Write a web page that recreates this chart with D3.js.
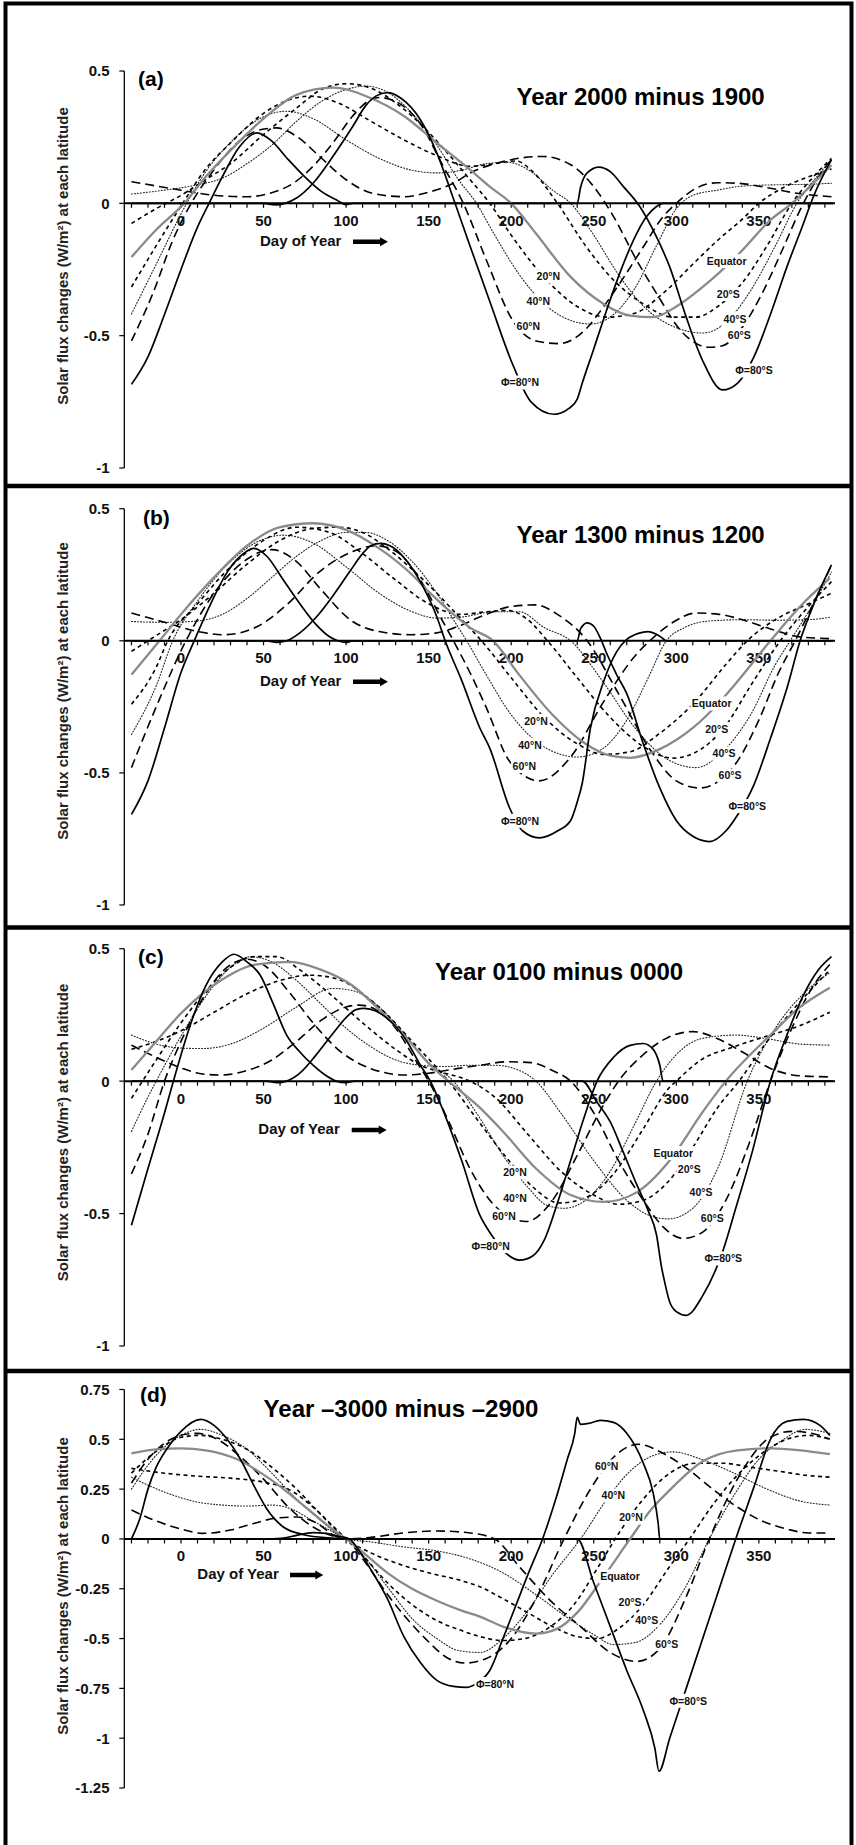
<!DOCTYPE html>
<html><head><meta charset="utf-8">
<script src="https://cdn.jsdelivr.net/npm/d3@7"></script>
<style>
body{margin:0;background:#fff}
svg{display:block}
text{font-family:'Liberation Sans',Arial,Helvetica,sans-serif}
</style>
</head><body>
<svg id="chart" width="856" height="1845"></svg>
<script>
// ---------------- DATA (day of year, W/m2) ----------------
const latitudes = ["80N","60N","40N","20N","EQ","20S","40S","60S","80S"];
const latLabels = {"80N":"\u03A6=80\u00B0N","60N":"60\u00B0N","40N":"40\u00B0N","20N":"20\u00B0N","EQ":"Equator","20S":"20\u00B0S","40S":"40\u00B0S","60S":"60\u00B0S","80S":"\u03A6=80\u00B0S"};
const xTickValues = [0,50,100,150,200,250,300,350];
const yTicksABC = [0.5,0,-0.5,-1];
const yTicksD = [0.75,0.5,0.25,0,-0.25,-0.5,-0.75,-1,-1.25];
const panelTitles = ["Year 2000 minus 1900","Year 1300 minus 1200","Year 0100 minus 0000","Year \u20133000 minus \u20132900"];
const panelLetters = ["(a)","(b)","(c)","(d)"];

// Panel (a) Year 2000 minus 1900
const a80N = [[-30,0],[50,0],[57,-0.006],[63,0],[70,0.02],[80,0.076],[92,0.177],[104,0.29],[112,0.37],[118,0.405],[125,0.418],[133,0.398],[145,0.316],[155,0.19],[166,0],[175,-0.16],[187,-0.37],[201,-0.61],[212,-0.75],[226,-0.797],[235,-0.775],[240,-0.74],[243,-0.68],[250,-0.55],[258,-0.4],[266,-0.26],[274,-0.14],[282,-0.05],[288,-0.012],[292,0],[395,0]];
const a60N = [[-30,0.082],[-7,0.057],[18,0.032],[40,0.025],[55,0.04],[68,0.076],[80,0.14],[92,0.228],[104,0.33],[112,0.38],[120,0.4],[130,0.385],[145,0.3],[158,0.15],[171,0],[185,-0.215],[201,-0.443],[215,-0.52],[229,-0.53],[246,-0.47],[256,-0.39],[266,-0.3],[280,-0.165],[292,-0.05],[300,0],[312,0.057],[325,0.078],[337,0.076],[357,0.057],[373,0.038],[394,0.025]];
const a40N = [[-30,0.035],[-10,0.05],[10,0.07],[25,0.095],[40,0.15],[55,0.22],[70,0.31],[85,0.385],[100,0.43],[112,0.443],[125,0.42],[140,0.34],[155,0.22],[168,0.09],[179,0],[190,-0.12],[205,-0.27],[220,-0.38],[235,-0.44],[248,-0.456],[262,-0.42],[275,-0.32],[288,-0.16],[300,-0.02],[310,0.03],[325,0.05],[340,0.065],[360,0.07],[380,0.072],[394,0.076]];
const a20N = [[-30,-0.076],[-15,-0.02],[0,0.03],[15,0.09],[30,0.15],[50,0.26],[70,0.36],[85,0.43],[100,0.452],[115,0.435],[130,0.38],[145,0.3],[160,0.2],[175,0.09],[187,0],[200,-0.12],[220,-0.28],[240,-0.39],[258,-0.43],[275,-0.415],[292,-0.34],[310,-0.23],[325,-0.14],[340,-0.06],[350,0],[365,0.06],[380,0.1],[394,0.13]];
const aEQ  = [[-30,-0.203],[-15,-0.1],[2,0],[15,0.1],[30,0.2],[50,0.32],[70,0.41],[92,0.437],[114,0.4],[135,0.33],[155,0.228],[175,0.127],[187,0.063],[200,0],[215,-0.114],[236,-0.278],[256,-0.38],[272,-0.424],[286,-0.43],[300,-0.39],[316,-0.316],[339,-0.184],[357,-0.063],[370,0],[394,0.145]];
const a20S = [[-30,-0.316],[-15,-0.16],[0,-0.01],[15,0.13],[30,0.228],[50,0.34],[65,0.39],[78,0.405],[95,0.38],[115,0.31],[135,0.24],[155,0.18],[175,0.14],[190,0.15],[203,0.16],[213,0.12],[228,0],[245,-0.16],[262,-0.29],[280,-0.38],[298,-0.43],[312,-0.43],[325,-0.39],[340,-0.3],[355,-0.16],[370,0],[383,0.1],[394,0.17]];
const a40S = [[-30,-0.418],[-15,-0.23],[0,-0.04],[15,0.12],[30,0.23],[45,0.31],[64,0.348],[80,0.32],[100,0.24],[120,0.17],[140,0.125],[155,0.115],[170,0.125],[185,0.15],[198,0.155],[212,0.12],[225,0.05],[236,0],[250,-0.12],[265,-0.27],[282,-0.4],[300,-0.47],[316,-0.49],[330,-0.45],[345,-0.33],[360,-0.16],[373,0],[385,0.1],[394,0.165]];
const a60S = [[-30,-0.52],[-17,-0.34],[-5,-0.14],[5,-0.013],[20,0.127],[34,0.228],[48,0.278],[58,0.285],[70,0.253],[84,0.177],[100,0.089],[116,0.038],[135,0.025],[151,0.044],[165,0.076],[175,0.114],[195,0.158],[219,0.177],[236,0.146],[250,0.063],[262,-0.05],[276,-0.215],[288,-0.34],[304,-0.49],[320,-0.544],[328,-0.538],[340,-0.468],[352,-0.34],[365,-0.165],[375,-0.025],[385,0.089],[394,0.165]];
const a80S = [[-30,-0.684],[-20,-0.58],[-10,-0.42],[0,-0.25],[10,-0.09],[17,0],[25,0.1],[35,0.21],[46,0.266],[55,0.235],[65,0.165],[75,0.1],[85,0.045],[95,0.01],[100,-0.005],[104,0],[240,0],[242,0.06],[246,0.115],[253,0.137],[260,0.12],[268,0.063],[278,-0.013],[288,-0.127],[296,-0.24],[306,-0.43],[316,-0.595],[328,-0.705],[337,-0.68],[347,-0.58],[357,-0.42],[367,-0.24],[377,-0.076],[383,0.025],[394,0.165]];

// Panel (b) Year 1300 minus 1200
const b80N = [[-30,0],[52,0],[58,-0.006],[64,0],[72,0.03],[82,0.09],[92,0.17],[102,0.26],[110,0.33],[115,0.36],[121,0.369],[128,0.355],[137,0.3],[147,0.2],[155,0.09],[160,0],[170,-0.15],[181,-0.33],[187,-0.406],[199,-0.632],[207,-0.72],[217,-0.746],[228,-0.72],[236,-0.68],[240,-0.61],[243,-0.54],[248,-0.33],[256,-0.154],[264,-0.04],[270,0.005],[277,0.028],[283,0.035],[288,0.025],[292,0.008],[294,0],[395,0]];
const b60N = [[-30,0.105],[-10,0.07],[10,0.035],[26,0.023],[45,0.05],[64,0.136],[84,0.262],[104,0.338],[118,0.36],[130,0.34],[145,0.23],[158,0.08],[165,0],[175,-0.12],[185,-0.254],[199,-0.456],[217,-0.53],[236,-0.44],[256,-0.23],[276,-0.05],[284,0],[298,0.07],[312,0.105],[326,0.1],[340,0.08],[357,0.045],[375,0.015],[394,0.008]];
const b40N = [[-30,0.073],[-10,0.07],[10,0.075],[25,0.1],[40,0.16],[55,0.24],[70,0.32],[85,0.38],[100,0.41],[112,0.41],[125,0.38],[140,0.3],[155,0.18],[167,0.06],[173,0],[185,-0.13],[200,-0.28],[215,-0.38],[230,-0.43],[240,-0.44],[255,-0.41],[270,-0.3],[283,-0.14],[294,0],[305,0.05],[320,0.075],[340,0.08],[360,0.078],[380,0.08],[394,0.09]];
const b20N = [[-30,-0.04],[-15,0.02],[0,0.08],[20,0.18],[40,0.29],[60,0.38],[80,0.425],[95,0.43],[110,0.41],[125,0.35],[140,0.27],[155,0.18],[170,0.08],[182,0],[200,-0.14],[220,-0.29],[240,-0.39],[256,-0.43],[272,-0.42],[290,-0.35],[310,-0.24],[330,-0.09],[343,0],[360,0.08],[380,0.14],[394,0.18]];
const bEQ  = [[-30,-0.128],[-13,0],[0,0.1],[20,0.24],[40,0.36],[60,0.43],[80,0.445],[100,0.42],[120,0.35],[140,0.25],[150,0.186],[165,0.1],[175,0.05],[189,0],[205,-0.13],[225,-0.28],[245,-0.39],[260,-0.435],[272,-0.443],[290,-0.41],[310,-0.33],[325,-0.24],[337,-0.154],[357,0],[375,0.13],[393,0.237]];
const b20S = [[-30,-0.24],[-15,-0.1],[-8,0],[10,0.14],[30,0.28],[50,0.38],[70,0.43],[90,0.41],[110,0.33],[130,0.23],[150,0.14],[170,0.1],[185,0.11],[198,0.115],[210,0.08],[222,0],[240,-0.14],[260,-0.29],[280,-0.4],[298,-0.444],[315,-0.41],[330,-0.32],[345,-0.17],[363,0],[380,0.13],[394,0.224]];
const b40S = [[-30,-0.355],[-15,-0.17],[-5,0],[10,0.15],[30,0.3],[50,0.385],[62,0.4],[80,0.37],[100,0.28],[120,0.18],[140,0.11],[155,0.086],[170,0.09],[190,0.11],[205,0.11],[220,0.05],[236,0],[255,-0.15],[275,-0.33],[295,-0.45],[312,-0.48],[328,-0.42],[345,-0.28],[360,-0.09],[369,0],[382,0.13],[394,0.26]];
const b60S = [[-30,-0.48],[-15,-0.25],[3,0],[20,0.18],[38,0.3],[55,0.345],[70,0.3],[84,0.2],[104,0.073],[120,0.035],[139,0.023],[155,0.03],[165,0.048],[185,0.1],[200,0.13],[215,0.136],[228,0.1],[246,0],[265,-0.2],[285,-0.42],[300,-0.53],[314,-0.557],[328,-0.52],[337,-0.456],[350,-0.3],[362,-0.12],[372,0],[383,0.14],[394,0.287]];
const b80S = [[-30,-0.657],[-20,-0.53],[-10,-0.33],[0,-0.12],[8,0],[18,0.14],[28,0.26],[36,0.32],[44,0.35],[52,0.32],[62,0.23],[72,0.14],[82,0.06],[90,0.015],[95,0],[100,-0.006],[104,0],[240,0],[242,0.045],[246,0.068],[250,0.055],[254,0.01],[258,-0.05],[264,-0.13],[270,-0.2],[280,-0.39],[290,-0.557],[300,-0.68],[310,-0.74],[320,-0.76],[330,-0.72],[337,-0.66],[347,-0.545],[357,-0.37],[367,-0.18],[375,0],[384,0.15],[394,0.287]];

// Panel (c) Year 0100 minus 0000
const c80N = [[-30,0],[52,0],[58,-0.006],[64,0],[72,0.03],[82,0.1],[92,0.18],[100,0.24],[106,0.27],[111,0.275],[118,0.265],[125,0.237],[137,0.149],[145,0.06],[151,0],[160,-0.13],[170,-0.3],[181,-0.506],[188,-0.58],[196,-0.645],[205,-0.676],[213,-0.66],[220,-0.6],[228,-0.46],[236,-0.3],[244,-0.14],[252,0],[262,0.09],[272,0.135],[280,0.142],[286,0.12],[290,0.06],[292,0],[395,0]];
const c60N = [[-30,0.136],[-15,0.09],[0,0.05],[12,0.028],[24,0.023],[40,0.04],[55,0.08],[70,0.15],[85,0.23],[100,0.28],[108,0.287],[118,0.27],[130,0.2],[142,0.08],[150,0],[162,-0.15],[175,-0.33],[190,-0.47],[209,-0.53],[225,-0.45],[240,-0.28],[255,-0.1],[265,0],[280,0.1],[295,0.165],[310,0.187],[325,0.16],[340,0.11],[357,0.048],[375,0.02],[393,0.016]];
const c40N = [[-30,0.174],[-15,0.14],[0,0.125],[13,0.123],[30,0.14],[50,0.2],[70,0.28],[92,0.35],[105,0.34],[120,0.28],[135,0.18],[150,0.07],[165,0],[180,-0.13],[195,-0.28],[210,-0.4],[222,-0.47],[232,-0.48],[245,-0.45],[260,-0.34],[275,-0.16],[288,0],[300,0.1],[315,0.16],[336,0.174],[355,0.16],[375,0.14],[393,0.136]];
const c20N = [[-30,0.12],[-15,0.15],[0,0.19],[20,0.26],[40,0.33],[60,0.38],[78,0.4],[95,0.385],[110,0.33],[125,0.25],[140,0.15],[155,0.05],[162,0],[180,-0.15],[200,-0.31],[215,-0.41],[229,-0.46],[245,-0.44],[262,-0.35],[280,-0.18],[295,-0.03],[300,0],[315,0.08],[335,0.13],[355,0.17],[375,0.21],[393,0.26]];
const cEQ  = [[-30,0.042],[-15,0.15],[0,0.256],[24,0.38],[45,0.44],[66,0.45],[85,0.42],[104,0.36],[120,0.27],[135,0.174],[151,0.06],[162,0],[181,-0.1],[195,-0.19],[215,-0.33],[236,-0.43],[256,-0.456],[276,-0.42],[296,-0.3],[316,-0.116],[330,0],[357,0.174],[375,0.28],[393,0.353]];
const c20S = [[-30,-0.065],[-15,0.08],[0,0.22],[15,0.34],[30,0.43],[45,0.47],[58,0.47],[72,0.42],[90,0.33],[110,0.22],[130,0.12],[145,0.06],[160,0.03],[175,0],[190,-0.06],[210,-0.2],[230,-0.34],[250,-0.43],[265,-0.465],[280,-0.45],[295,-0.38],[310,-0.25],[325,-0.1],[338,0],[355,0.15],[375,0.3],[393,0.42]];
const c40S = [[-30,-0.19],[-20,-0.06],[-15,0],[0,0.17],[15,0.32],[30,0.43],[42,0.47],[55,0.45],[70,0.38],[85,0.29],[100,0.2],[115,0.13],[130,0.08],[145,0.06],[160,0.055],[175,0.06],[190,0.06],[205,0.04],[215,0],[230,-0.12],[250,-0.3],[270,-0.45],[285,-0.51],[295,-0.52],[310,-0.48],[325,-0.33],[343,0],[360,0.2],[377,0.33],[393,0.41]];
const c60S = [[-30,-0.35],[-20,-0.2],[-10,0],[0,0.15],[15,0.33],[28,0.43],[40,0.46],[52,0.43],[65,0.34],[80,0.22],[95,0.12],[110,0.06],[125,0.03],[135,0.023],[150,0.03],[165,0.045],[181,0.06],[198,0.073],[212,0.07],[225,0.04],[236,0],[250,-0.12],[265,-0.3],[280,-0.45],[292,-0.55],[304,-0.594],[316,-0.57],[330,-0.45],[345,-0.22],[357,0],[370,0.2],[382,0.35],[393,0.44]];
const c80S = [[-30,-0.544],[-20,-0.33],[-10,-0.12],[-4.6,0],[5,0.2],[15,0.36],[25,0.45],[32,0.479],[40,0.45],[48,0.4],[56,0.29],[64,0.174],[72,0.11],[80,0.06],[88,0.02],[94,0],[100,-0.006],[105,0],[243,0],[252,-0.08],[260,-0.154],[268,-0.27],[276,-0.39],[283,-0.49],[288,-0.58],[291,-0.7],[293,-0.76],[296,-0.834],[300,-0.87],[306,-0.884],[316,-0.81],[328,-0.645],[336,-0.48],[346,-0.267],[357,0],[367,0.174],[377,0.325],[386,0.42],[394,0.47]];

// Panel (d) Year -3000 minus -2900
const d80N = [[-30,0],[55,0],[62,0.004],[70,0.018],[80,0.032],[88,0.028],[96,0.012],[102,0],[108,-0.06],[114,-0.14],[125,-0.3],[135,-0.49],[145,-0.62],[155,-0.71],[165,-0.74],[173,-0.745],[180,-0.72],[187,-0.66],[195,-0.5],[203,-0.33],[211,-0.16],[219,0],[227,0.2],[234,0.4],[238.5,0.53],[240,0.61],[242,0.575],[247,0.58],[254,0.595],[262,0.585],[270,0.53],[280,0.38],[286,0.23],[289,0.08],[290,0],[395,0]];
const d60N = [[-30,0.145],[-15,0.09],[0,0.05],[13,0.028],[30,0.045],[45,0.08],[58,0.105],[70,0.11],[82,0.08],[94,0.012],[100,0],[110,-0.1],[127,-0.3],[148,-0.5],[162,-0.6],[172,-0.623],[185,-0.6],[200,-0.5],[215,-0.3],[232,0],[248,0.25],[262,0.41],[277,0.475],[292,0.43],[307,0.35],[322,0.25],[337,0.16],[352,0.09],[367,0.05],[380,0.03],[393,0.03]];
const d40N = [[-30,0.31],[-20,0.27],[-5,0.22],[10,0.185],[25,0.17],[40,0.165],[55,0.17],[67,0.15],[80,0.09],[92,0.035],[100,0],[112,-0.1],[125,-0.24],[140,-0.4],[155,-0.5],[168,-0.56],[181,-0.57],[195,-0.5],[210,-0.36],[225,-0.18],[242,0],[258,0.2],[272,0.34],[285,0.415],[298,0.437],[315,0.4],[335,0.33],[355,0.25],[375,0.19],[393,0.17]];
const d20N = [[-30,0.354],[-10,0.33],[10,0.315],[30,0.305],[50,0.285],[65,0.25],[80,0.16],[92,0.065],[100,0],[112,-0.1],[125,-0.22],[140,-0.33],[155,-0.41],[170,-0.46],[181,-0.49],[195,-0.51],[208,-0.5],[222,-0.45],[238,-0.33],[252,-0.15],[263,0],[280,0.2],[296,0.33],[312,0.38],[328,0.38],[345,0.36],[362,0.34],[378,0.32],[393,0.31]];
const dEQ  = [[-30,0.43],[-15,0.45],[0,0.455],[15,0.445],[34,0.4],[54,0.3],[74,0.17],[90,0.06],[100,0],[112,-0.08],[125,-0.17],[140,-0.25],[155,-0.31],[170,-0.36],[181,-0.39],[195,-0.44],[215,-0.475],[228,-0.45],[240,-0.37],[256,-0.19],[272,0],[285,0.15],[296,0.245],[316,0.39],[337,0.445],[357,0.455],[375,0.445],[393,0.426]];
const d20S = [[-30,0.33],[-15,0.44],[0,0.51],[12,0.52],[25,0.5],[40,0.45],[55,0.36],[70,0.25],[85,0.12],[100,0],[115,-0.07],[130,-0.12],[150,-0.17],[170,-0.21],[181,-0.24],[195,-0.3],[210,-0.37],[225,-0.44],[240,-0.49],[252,-0.5],[265,-0.45],[280,-0.33],[295,-0.15],[308,0],[322,0.17],[337,0.32],[352,0.43],[367,0.5],[380,0.52],[393,0.5]];
const d40S = [[-30,0.25],[-15,0.42],[0,0.52],[12,0.55],[25,0.52],[40,0.45],[55,0.33],[70,0.2],[85,0.09],[100,0],[115,-0.015],[135,-0.04],[155,-0.06],[175,-0.1],[195,-0.17],[215,-0.28],[235,-0.4],[250,-0.48],[262,-0.53],[275,-0.52],[290,-0.43],[305,-0.25],[320,0],[335,0.22],[350,0.4],[365,0.5],[378,0.55],[393,0.53]];
const d60S = [[-30,0.28],[-20,0.4],[-10,0.48],[0,0.52],[10,0.53],[22,0.5],[35,0.42],[50,0.3],[65,0.16],[80,0.06],[92,0.015],[100,0],[115,0.008],[135,0.03],[155,0.04],[175,0.03],[190,0],[205,-0.14],[225,-0.32],[242,-0.44],[260,-0.57],[276,-0.615],[290,-0.55],[306,-0.29],[320,0],[337,0.3],[357,0.51],[370,0.54],[382,0.53],[393,0.5]];
const d80S = [[-30,0],[-25,0.1],[-20,0.25],[-15,0.36],[-7,0.47],[0,0.54],[12,0.6],[20,0.57],[28,0.5],[36,0.4],[44,0.27],[52,0.15],[62,0.06],[75,0.02],[90,0.005],[100,0],[240,0],[250,-0.22],[260,-0.44],[270,-0.66],[280,-0.86],[287,-1.05],[289.5,-1.166],[296,-1.0],[306,-0.75],[316,-0.5],[326,-0.25],[336,0],[347,0.26],[357,0.5],[367,0.59],[377,0.6],[387,0.57],[393,0.52]];

const seriesByPanel = [
  {"80N":a80N,"60N":a60N,"40N":a40N,"20N":a20N,"EQ":aEQ,"20S":a20S,"40S":a40S,"60S":a60S,"80S":a80S},
  {"80N":b80N,"60N":b60N,"40N":b40N,"20N":b20N,"EQ":bEQ,"20S":b20S,"40S":b40S,"60S":b60S,"80S":b80S},
  {"80N":c80N,"60N":c60N,"40N":c40N,"20N":c20N,"EQ":cEQ,"20S":c20S,"40S":c40S,"60S":c60S,"80S":c80S},
  {"80N":d80N,"60N":d60N,"40N":d40N,"20N":d20N,"EQ":dEQ,"20S":d20S,"40S":d40S,"60S":d60S,"80S":d80S}
];

// ---------------- LAYOUT / STYLE ----------------
const styles = {
  "80N":{stroke:"#000",w:1.7,dash:null},
  "80S":{stroke:"#000",w:1.7,dash:null},
  "60N":{stroke:"#000",w:1.6,dash:"9,5"},
  "60S":{stroke:"#000",w:1.6,dash:"9,5"},
  "40N":{stroke:"#222",w:1.1,dash:"1,2"},
  "40S":{stroke:"#222",w:1.1,dash:"1,2"},
  "20N":{stroke:"#000",w:1.6,dash:"4,3.5"},
  "20S":{stroke:"#000",w:1.6,dash:"4,3.5"},
  "EQ":{stroke:"#8a8a8a",w:2.3,dash:null}
};
const drawOrder = ["40N","40S","20N","20S","60N","60S","EQ","80N","80S"];

const panels = [
  {frame:[3.5,486], ydom:[-1,0.5], yr:[468,71], ticks:yTicksABC, titleX:516.5, titleY:105, letX:138, letY:85.5,
   doy:[260,245.7], arrow:[353,388,241.7], ylabC:256,
   labels:{"EQ":[726.7,261.3],"20N":[548.3,276.7],"40N":[538.3,301],"60N":[528.3,326.7],"80N":[520,382.7],"20S":[728.3,294.3],"40S":[735,319.3],"60S":[739.3,335.3],"80S":[754,370.7]}},
  {frame:[486,927.5], ydom:[-1,0.5], yr:[905,508.7], ticks:yTicksABC, titleX:516.5, titleY:543.3, letX:143, letY:525,
   doy:[260,685.7], arrow:[353,388,681.7], ylabC:691,
   labels:{"EQ":[711.7,703.7],"20N":[536,721],"40N":[530,745],"60N":[524.3,766.3],"80N":[520,821],"20S":[716.7,729.3],"40S":[724,753.7],"60S":[730,775.7],"80S":[747.3,806.3]}},
  {frame:[927.5,1371], ydom:[-1,0.5], yr:[1346,948.7], ticks:yTicksABC, titleX:435, titleY:980, letX:138, letY:963.5,
   doy:[258.3,1134], arrow:[351.7,386.7,1130], ylabC:1132.5,
   labels:{"EQ":[673.3,1153.3],"20N":[515,1172.7],"40N":[515,1198.3],"60N":[504,1216.7],"80N":[490.7,1246.3],"20S":[689.3,1169.3],"40S":[701,1192],"60S":[712.3,1218.3],"80S":[723.3,1258.7]}},
  {frame:[1371,1852], ydom:[-1.25,0.75], yr:[1788,1389.5], ticks:yTicksD, titleX:263.6, titleY:1416.7, letX:140, letY:1402,
   doy:[197.3,1579], arrow:[290,323.3,1575], ylabC:1586,
   labels:{"60N":[606.7,1466.7],"40N":[613.3,1495.7],"20N":[631,1517.7],"EQ":[620,1576.7],"20S":[630,1602.7],"40S":[646.7,1620],"60S":[666.7,1644],"80N":[495,1684.3],"80S":[688.3,1701]}}
];

const svg = d3.select("#chart");
svg.append("rect").attr("width",856).attr("height",1845).attr("fill","#fff");

const x = d3.scaleLinear().domain([-35,396]).range([123.2,834.8]);
const axisX = 124.3;

panels.forEach((p,i)=>{
  const g = svg.append("g");
  const y = d3.scaleLinear().domain(p.ydom).range(p.yr);
  const y0 = y(0);

  // y axis
  g.append("line").attr("x1",axisX).attr("x2",axisX).attr("y1",y(p.ydom[1])).attr("y2",y(p.ydom[0]))
    .attr("stroke","#000").attr("stroke-width",1.3);
  p.ticks.forEach(t=>{
    g.append("line").attr("x1",axisX-5).attr("x2",axisX).attr("y1",y(t)).attr("y2",y(t)).attr("stroke","#000").attr("stroke-width",1.2);
    g.append("text").attr("x",109.5).attr("y",y(t)).attr("dy","0.36em").attr("text-anchor","end")
      .attr("font-size",15).attr("font-weight","bold").attr("fill","#111").text(String(t).replace("-","-"));
  });
  // x axis
  g.append("line").attr("x1",axisX).attr("x2",835).attr("y1",y0).attr("y2",y0).attr("stroke","#000").attr("stroke-width",2);
  d3.range(-30,400,10).forEach(d=>{
    g.append("line").attr("x1",x(d)).attr("x2",x(d)).attr("y1",y0).attr("y2",y0+4.5).attr("stroke","#000").attr("stroke-width",1.2);
  });
  xTickValues.forEach(d=>{
    g.append("text").attr("x",x(d)).attr("y",y0+22.5).attr("text-anchor","middle")
      .attr("font-size",15).attr("font-weight","bold").attr("fill","#111").text(d);
  });

  // Day of Year + arrow
  g.append("text").attr("x",p.doy[0]).attr("y",p.doy[1]).attr("font-size",15).attr("font-weight","bold").attr("fill","#111").text("Day of Year");
  const [ax1,ax2,ay] = p.arrow;
  g.append("path").attr("d",`M${ax1},${ay-2.2}L${ax2-8},${ay-2.2}L${ax2-8},${ay-4.5}L${ax2},${ay}L${ax2-8},${ay+4.5}L${ax2-8},${ay+2.2}L${ax1},${ay+2.2}Z`).attr("fill","#000");

  // y label
  g.append("text").attr("transform",`translate(68,${p.ylabC}) rotate(-90)`).attr("text-anchor","middle")
    .attr("font-size",15).attr("font-weight","bold").attr("fill","#222")
    .text("Solar flux changes (W/m\u00B2) at each latitude");

  // curves
  const line = d3.line().x(d=>x(d[0])).y(d=>y(d[1])).curve(d3.curveMonotoneX);
  const ser = seriesByPanel[i];
  drawOrder.forEach(k=>{
    const s = styles[k];
    const path = g.append("path").datum(ser[k]).attr("d",line).attr("fill","none")
      .attr("stroke",s.stroke).attr("stroke-width",s.w).attr("stroke-linejoin","round");
    if(s.dash) path.attr("stroke-dasharray",s.dash);
    if(k==="40N"||k==="40S") path.attr("stroke-linecap","round");
  });

  // curve labels with white background
  latitudes.forEach(k=>{
    const [lx,ly] = p.labels[k];
    const t = g.append("text").attr("x",lx).attr("y",ly).attr("dy","0.36em").attr("text-anchor","middle")
      .attr("font-size",10.5).attr("font-weight","bold").attr("fill","#111").text(latLabels[k]);
    const bb = t.node().getBBox();
    g.insert("rect", function(){return t.node();}).attr("x",bb.x-1.5).attr("y",bb.y-1).attr("width",bb.width+3).attr("height",bb.height+2).attr("fill","#fff");
  });

  // title & letter
  g.append("text").attr("x",p.titleX).attr("y",p.titleY).attr("font-size",24).attr("font-weight","bold").attr("fill","#000").text(panelTitles[i]);
  g.append("text").attr("x",p.letX).attr("y",p.letY).attr("font-size",21).attr("font-weight","bold").attr("fill","#000").text(panelLetters[i]);
});

// frames
svg.append("rect").attr("x",5.5).attr("y",3.5).attr("width",846).attr("height",1850).attr("fill","none").attr("stroke","#000").attr("stroke-width",4);
[486,927.5,1371].forEach(yy=>{
  svg.append("line").attr("x1",5.5).attr("x2",851.5).attr("y1",yy).attr("y2",yy).attr("stroke","#000").attr("stroke-width",4.5);
});
</script>
</body></html>
